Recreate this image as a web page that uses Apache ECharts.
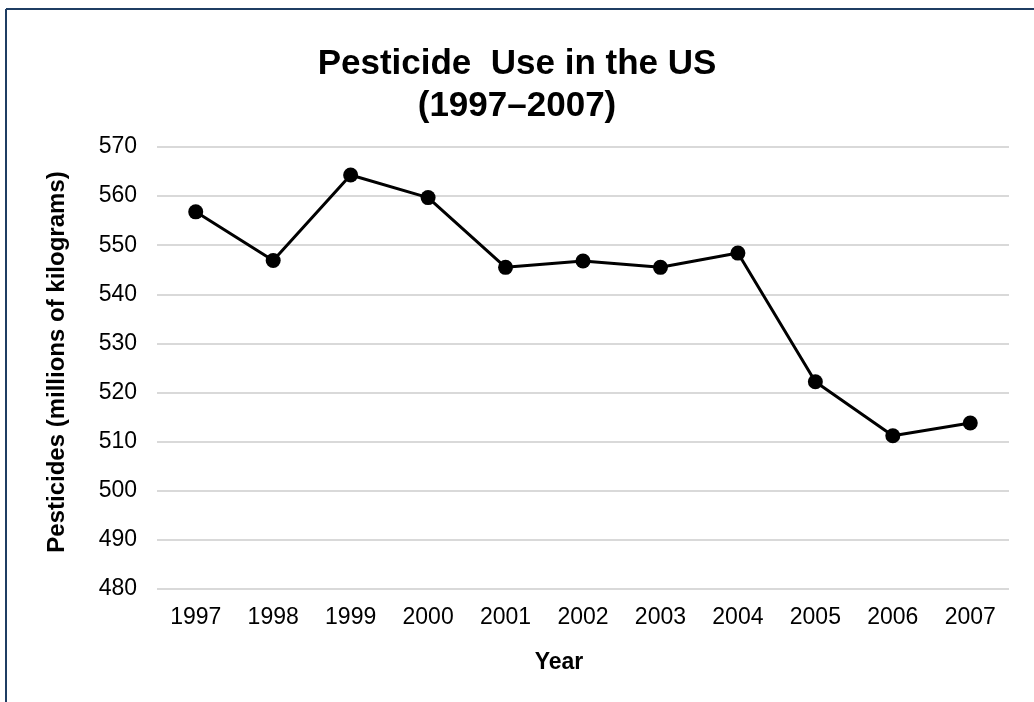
<!DOCTYPE html>
<html>
<head>
<meta charset="utf-8">
<style>
  html, body { margin: 0; padding: 0; background: #fff; }
  #chart { width: 1034px; height: 702px; }
</style>
<script src="https://cdn.jsdelivr.net/npm/echarts@6/dist/echarts.min.js"></script>
</head>
<body>
<div id="chart"></div>
<script>
// Annual US pesticide use, millions of kilograms
const years = ['1997', '1998', '1999', '2000', '2001', '2002', '2003', '2004', '2005', '2006', '2007'];
const pesticides = [556.8, 546.9, 564.3, 559.7, 545.5, 546.8, 545.5, 548.4, 522.2, 511.2, 513.8];
const yTicks = { min: 480, max: 570, step: 10 };

const FONT = '"Liberation Sans", Arial, sans-serif';
const chart = echarts.init(document.getElementById('chart'), null, { renderer: 'canvas' });

chart.setOption({
  backgroundColor: '#ffffff',
  animation: false,
  title: {
    text: 'Pesticide  Use in the US\n(1997\u20132007)',
    left: 'center',
    top: 43,
    padding: 0,
    textStyle: {
      fontFamily: FONT,
      fontSize: 35,
      fontWeight: 'bold',
      color: '#000',
      lineHeight: 42
    }
  },
  grid: { left: 157, right: 25, top: 147, bottom: 113, containLabel: false },
  xAxis: {
    type: 'category',
    data: years,
    boundaryGap: true,
    name: 'Year',
    nameLocation: 'middle',
    nameGap: 62,
    nameTextStyle: { fontFamily: FONT, fontSize: 23, fontWeight: 'bold', color: '#000', padding: [0, 48, 0, 0] },
    axisLine: { show: false },
    axisTick: { show: false },
    axisLabel: { fontFamily: FONT, fontSize: 23, color: '#000', margin: 17 }
  },
  yAxis: {
    type: 'value',
    min: yTicks.min,
    max: yTicks.max,
    interval: yTicks.step,
    name: 'Pesticides (millions of kilograms)',
    nameLocation: 'middle',
    nameGap: 88,
    nameTextStyle: { fontFamily: FONT, fontSize: 24, fontWeight: 'bold', color: '#000', padding: [0, 0, 0, 12] },
    axisLine: { show: false },
    axisTick: { show: false },
    axisLabel: { fontFamily: FONT, fontSize: 23, color: '#000', margin: 20 },
    splitLine: { show: true, lineStyle: { color: '#d9d9d9', width: 2 } }
  },
  series: [{
    type: 'line',
    data: pesticides,
    symbol: 'circle',
    symbolSize: 15,
    lineStyle: { color: '#000', width: 3 },
    itemStyle: { color: '#000' }
  }],
  graphic: [
    { type: 'line', shape: { x1: 6, y1: 9, x2: 1034, y2: 9 }, style: { stroke: '#1f3d63', lineWidth: 2 } },
    { type: 'line', shape: { x1: 6, y1: 9, x2: 6, y2: 702 }, style: { stroke: '#1f3d63', lineWidth: 2 } }
  ]
});
</script>
</body>
</html>
